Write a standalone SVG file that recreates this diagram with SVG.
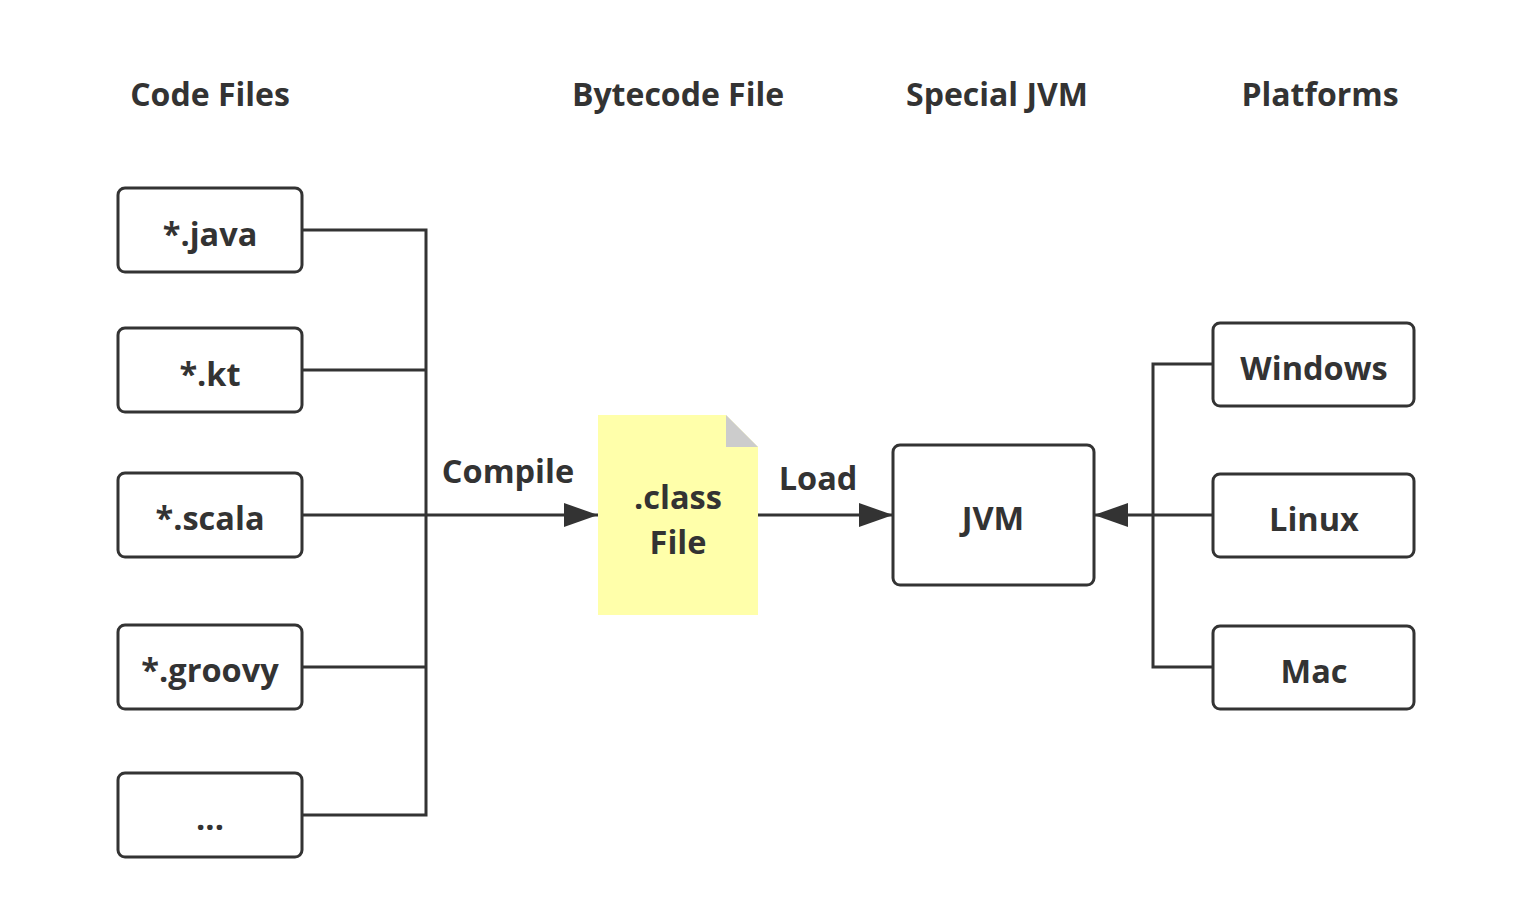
<svg xmlns="http://www.w3.org/2000/svg" width="1530" height="908" viewBox="0 0 1530 908">
<defs>
<style>
.box{fill:#fff;stroke:#333;stroke-width:3}
.t{font-family:"Open Sans","Noto Sans","DejaVu Sans",sans-serif;font-weight:bold;fill:#333;text-anchor:middle;dominant-baseline:central}
.h{font-size:32px}
.n{font-size:32.5px}
.ln{fill:none;stroke:#333;stroke-width:3}
</style>
<marker id="arrB" viewBox="0 0 34 24" refX="34" refY="12" markerWidth="34" markerHeight="24" orient="auto" markerUnits="userSpaceOnUse">
<path d="M0,0 L34,12 L0,24 z" fill="#333"/>
</marker>
</defs>
<rect width="1530" height="908" fill="#fff"/>
<g id="headers">
<text class="t h" x="210" y="93">Code Files</text>
<text class="t h" x="678" y="93">Bytecode File</text>
<text class="t h" x="997" y="93">Special JVM</text>
<text class="t h" x="1320" y="93">Platforms</text>
</g>
<g id="connectors">
<path class="ln" d="M302,230 H426 V815 H302"/>
<path class="ln" d="M302,370 H426"/>
<path class="ln" d="M302,667 H426"/>
<path class="ln" d="M302,515 H598" marker-end="url(#arrB)"/>
<path class="ln" d="M758,515 H893" marker-end="url(#arrB)"/>
<path class="ln" d="M1213,364 H1153 V667 H1213"/>
<path class="ln" d="M1213,515 H1094" marker-end="url(#arrB)"/>
<text class="t n" x="508" y="470">Compile</text>
<text class="t n" x="818" y="477">Load</text>
</g>
<g id="java"><rect class="box" x="118" y="188" width="184" height="84" rx="7"/><text class="t n" x="210" y="233">*.java</text></g>
<g id="kt"><rect class="box" x="118" y="328" width="184" height="84" rx="7"/><text class="t n" x="210" y="373">*.kt</text></g>
<g id="scala"><rect class="box" x="118" y="473" width="184" height="84" rx="7"/><text class="t n" x="210" y="517">*.scala</text></g>
<g id="groovy"><rect class="box" x="118" y="625" width="184" height="84" rx="7"/><text class="t n" x="210" y="669">*.groovy</text></g>
<g id="more"><rect class="box" x="118" y="773" width="184" height="84" rx="7"/><text class="t n" x="210" y="817">...</text></g>
<g id="classfile">
<path d="M598,415 H726 L758,447 V615 H598 Z" fill="#ffffaa"/>
<path d="M726,415 L758,447 H726 Z" fill="#cccccc"/>
<text class="t n" x="678" y="496">.class</text>
<text class="t n" x="678" y="541">File</text>
</g>
<g id="jvm"><rect class="box" x="893" y="445" width="201" height="140" rx="7"/><text class="t n" x="993" y="517">JVM</text></g>
<g id="windows"><rect class="box" x="1213" y="323" width="201" height="83" rx="7"/><text class="t n" x="1314" y="367">Windows</text></g>
<g id="linux"><rect class="box" x="1213" y="474" width="201" height="83" rx="7"/><text class="t n" x="1314" y="518">Linux</text></g>
<g id="mac"><rect class="box" x="1213" y="626" width="201" height="83" rx="7"/><text class="t n" x="1314" y="670">Mac</text></g>
</svg>
